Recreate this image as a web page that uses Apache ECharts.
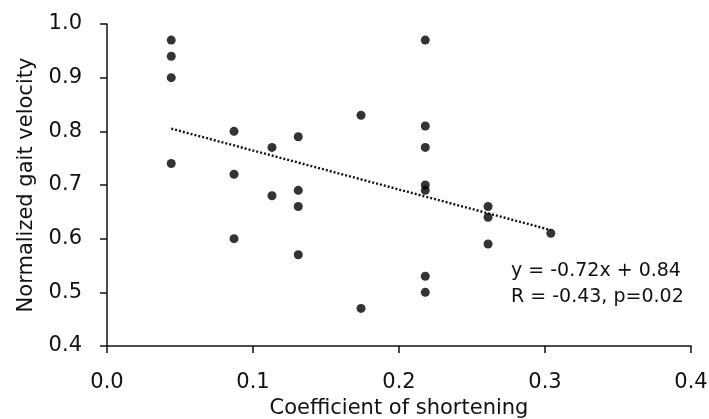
<!DOCTYPE html>
<html><head><meta charset="utf-8">
<script src="https://cdn.jsdelivr.net/npm/echarts@6/dist/echarts.min.js"></script>
<style>html,body{margin:0;padding:0;background:#fff}#c{width:709px;height:419px}</style>
</head><body><div id="c"></div>
<script>
var xTicks = [0.0, 0.1, 0.2, 0.3, 0.4];
var yTicks = [0.4, 0.5, 0.6, 0.7, 0.8, 0.9, 1.0];
var pointsX = [0.044,0.044,0.044,0.044, 0.087,0.087,0.087, 0.113,0.113, 0.131,0.131,0.131,0.131, 0.174,0.174, 0.218,0.218,0.218,0.218,0.218,0.218,0.218, 0.261,0.261,0.261, 0.304];
var pointsY = [0.97,0.94,0.90,0.74, 0.80,0.72,0.60, 0.77,0.68, 0.79,0.69,0.66,0.57, 0.83,0.47, 0.97,0.81,0.77,0.70,0.69,0.53,0.50, 0.66,0.64,0.59, 0.61];
var trendX = [0.044, 0.304];
var trendY = [0.805, 0.616];
var eqText = ['y = -0.72x + 0.84', 'R = -0.43, p=0.02'];

var font = 'DejaVu Sans, Verdana, sans-serif';
var chart = echarts.init(document.getElementById('c'));
chart.setOption({
  animation: false,
  grid: {left: 107, right: 18, top: 24, bottom: 73, containLabel: false, outerBoundsMode: 'none'},
  xAxis: {
    type: 'value', min: xTicks[0], max: xTicks[xTicks.length-1], interval: 0.1,
    name: 'Coefficient of shortening', nameLocation: 'middle', nameGap: 50,
    nameTextStyle: {fontFamily: font, fontSize: 21, color: '#111'},
    axisLine: {show: true, lineStyle: {color: '#111', width: 1.5}},
    axisTick: {show: true, length: 7, lineStyle: {color: '#111', width: 1.5}},
    axisLabel: {fontFamily: font, fontSize: 21, color: '#111', margin: 26, formatter: function(v){return v.toFixed(1);}},
    splitLine: {show: false}
  },
  yAxis: {
    type: 'value', min: yTicks[0], max: yTicks[yTicks.length-1], interval: 0.1,
    name: 'Normalized gait velocity', nameLocation: 'middle', nameGap: 70,
    nameTextStyle: {fontFamily: font, fontSize: 21, color: '#111'},
    axisLine: {show: true, lineStyle: {color: '#111', width: 1.5}},
    axisTick: {show: true, length: 7, lineStyle: {color: '#111', width: 1.5}},
    axisLabel: {fontFamily: font, fontSize: 21, color: '#111', margin: 25, formatter: function(v){return v.toFixed(1);}},
    splitLine: {show: false}
  },
  series: [
    {
      type: 'line', data: trendX.map(function(x,i){return [x, trendY[i]];}),
      symbol: 'none', lineStyle: {color: '#111', width: 2.4, type: [2, 2]}, z: 1
    },
    {
      type: 'scatter', data: pointsX.map(function(x,i){return [x, pointsY[i]];}),
      symbolSize: 9, itemStyle: {color: '#000'}, z: 2
    }
  ],
  graphic: [
    {type: 'text', left: 511, top: 262, style: {text: eqText[0], font: '19px ' + font, fill: '#111'}},
    {type: 'text', left: 511, top: 288, style: {text: eqText[1], font: '19px ' + font, fill: '#111'}}
  ]
});
</script></body></html>
